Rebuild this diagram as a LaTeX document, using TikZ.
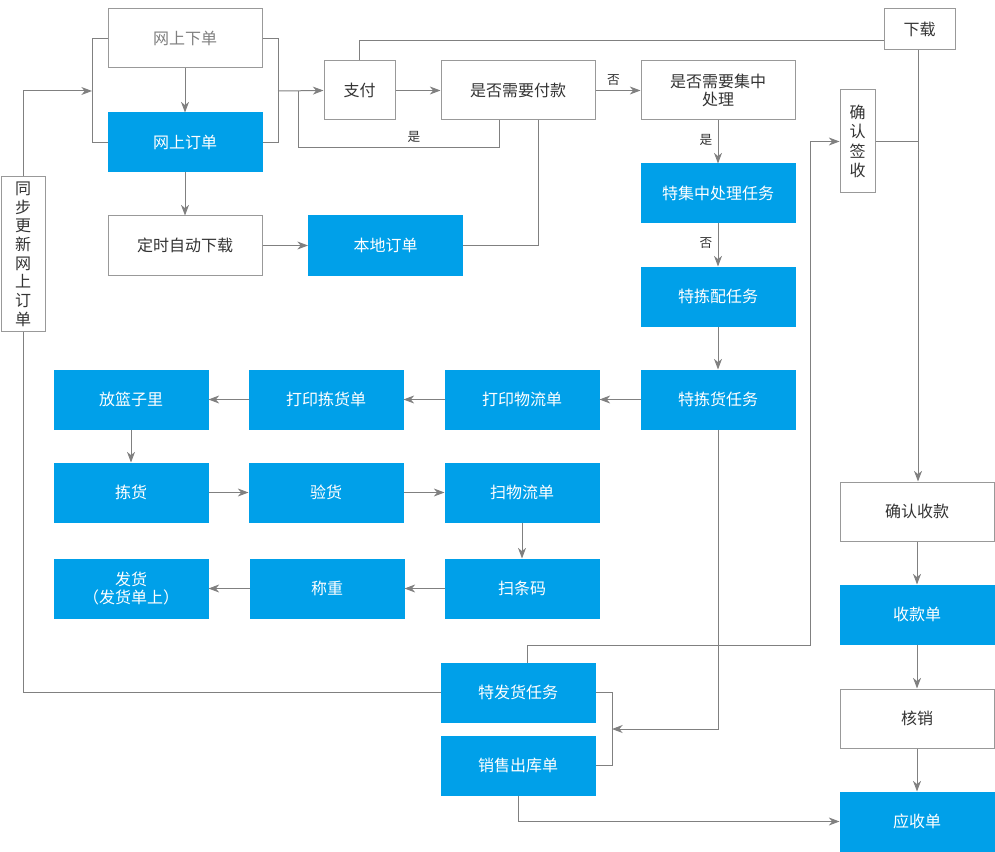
\documentclass[tikz,border=0pt]{standalone}
\usepackage{fontspec}
\setmainfont{Noto Sans CJK SC}
\usetikzlibrary{arrows.meta,calc}
\definecolor{bl}{HTML}{00A0E9}
\definecolor{ln}{HTML}{808080}
\definecolor{bd}{HTML}{999999}
\definecolor{tx}{HTML}{333333}
\begin{document}
\begin{tikzpicture}[x=0.75pt,y=-0.75pt,
  box/.style={draw=bd,fill=white,text=tx,minimum width=115.5pt,minimum height=44.25pt,inner sep=0pt,font=\fontsize{12}{14}\selectfont,align=center,line width=0.75pt},
  bb/.style={box,fill=bl,draw=bl,text=white},
  cn/.style={draw=ln,line width=0.75pt},
  ar/.style={cn,-{Stealth[length=8pt,width=6pt,inset=2.5pt]}},
  lab/.style={font=\fontsize{9.5}{11}\selectfont,text=tx,inner sep=1pt}]
\useasboundingbox (0,0) rectangle (995,852);
% nodes
\node[box,text=ln] (wsxd) at (185,38.5) {网上下单};
\node[bb] (wsdd) at (185,142.5) {网上订单};
\node[box] (dszd) at (185,245.5) {定时自动下载};
\node[bb] (bddd) at (385.5,245.5) {本地订单};
\node[box,minimum width=53.25pt] (zf) at (359.5,90.5) {支付};
\node[box] (fk) at (518,90.5) {是否需要付款};
\node[box] (jz) at (718,90.5) {是否需要集中\\处理};
\node[box,minimum width=53.25pt,minimum height=30.75pt] (xz) at (919.5,29.5) {下载};
\node[box,minimum width=26.25pt,minimum height=77.25pt,font=\fontsize{12}{14.5}\selectfont] (qs) at (857.5,141.5) {确\\认\\签\\收};
\node[box,minimum width=33pt,minimum height=115.5pt,font=\fontsize{12}{14}\selectfont] (tb) at (23,254) {同\\步\\更\\新\\网\\上\\订\\单};
\node[bb] (tjz) at (718,193.5) {特集中处理任务};
\node[bb] (tjp) at (718,296.5) {特拣配任务};
\node[bb] (tjh) at (718,399.5) {特拣货任务};
\node[bb] (dywl) at (522,399.5) {打印物流单};
\node[bb] (dyjh) at (326,399.5) {打印拣货单};
\node[bb] (flz) at (131,399.5) {放篮子里};
\node[bb] (jh) at (131,492.5) {拣货};
\node[bb] (yh) at (326,492.5) {验货};
\node[bb] (swl) at (522,492.5) {扫物流单};
\node[bb] (stm) at (522,588.5) {扫条码};
\node[bb] (cz) at (327,588.5) {称重};
\node[bb] (fh) at (131,588.5) {发货\\（发货单上）};
\node[bb] (tfh) at (518,692.5) {特发货任务};
\node[bb] (xsck) at (518,765.5) {销售出库单};
\node[box] (qrsk) at (917,511.5) {确认收款};
\node[bb] (skd) at (917,614.5) {收款单};
\node[box] (hx) at (917,718.5) {核销};
\node[bb] (ysd) at (917,821.5) {应收单};
% coordinates
\coordinate (lb) at (92,91);
\coordinate (rb) at (278,91);
\coordinate (mb) at (612,729);
% brackets
\draw[cn] (wsxd.west) -- (92,38.5) -- (92,142.5) -- (wsdd.west);
\draw[cn] (wsxd.east) -- (278,38.5) -- (278,142.5) -- (wsdd.east);
\draw[ar] (tb.north) |- (lb);
\draw[ar] (rb) -- (zf.west);
\draw[ar] (wsxd) -- (wsdd);
\draw[ar] (wsdd) -- (dszd);
\draw[ar] (dszd) -- (bddd);
\draw[cn] (bddd.east) -| (538,120);
\draw[cn] (fk.south -| 499,0) -- (499,148) -| (298,91);
\node[lab] at (414,137) {是};
\draw[ar] (zf) -- (fk);
\draw[ar] (fk) -- node[lab,above=2pt,pos=0.4]{否} (jz);
\draw[cn] (zf.north) |- (xz.west |- 0,41) -- (xz.west |- 0,41);
\draw[ar] (xz.south -| 918,0) -- (qrsk.north -| 918,0);
\draw[cn] (qs.east) -- (918,141.5);
\draw[ar] (jz) -- node[lab,left=3pt,pos=0.45]{是} (tjz);
\draw[ar] (tjz) -- node[lab,left=3pt,pos=0.45]{否} (tjp);
\draw[ar] (tjp) -- (tjh);
\draw[ar] (tjh) -- (dywl);
\draw[ar] (dywl) -- (dyjh);
\draw[ar] (dyjh) -- (flz);
\draw[ar] (flz) -- (jh);
\draw[ar] (jh) -- (yh);
\draw[ar] (yh) -- (swl);
\draw[ar] (swl) -- (stm);
\draw[ar] (stm) -- (cz);
\draw[ar] (cz) -- (fh);
\draw[ar] (tjh.south) |- (mb);
\draw[cn] (tfh.east) -- (612,692.5) -- (612,765.5) -- (xsck.east);
\draw[ar] (tfh.north -| 527,0) -- (527,645) -| (810,141.5) -- (qs.west);
\draw[cn] (tfh.west) -| (tb.south);
\draw[ar] (xsck.south) |- (ysd.west);
\draw[ar] (qrsk) -- (skd);
\draw[ar] (skd) -- (hx);
\draw[ar] (hx) -- (ysd);
\end{tikzpicture}
\end{document}
